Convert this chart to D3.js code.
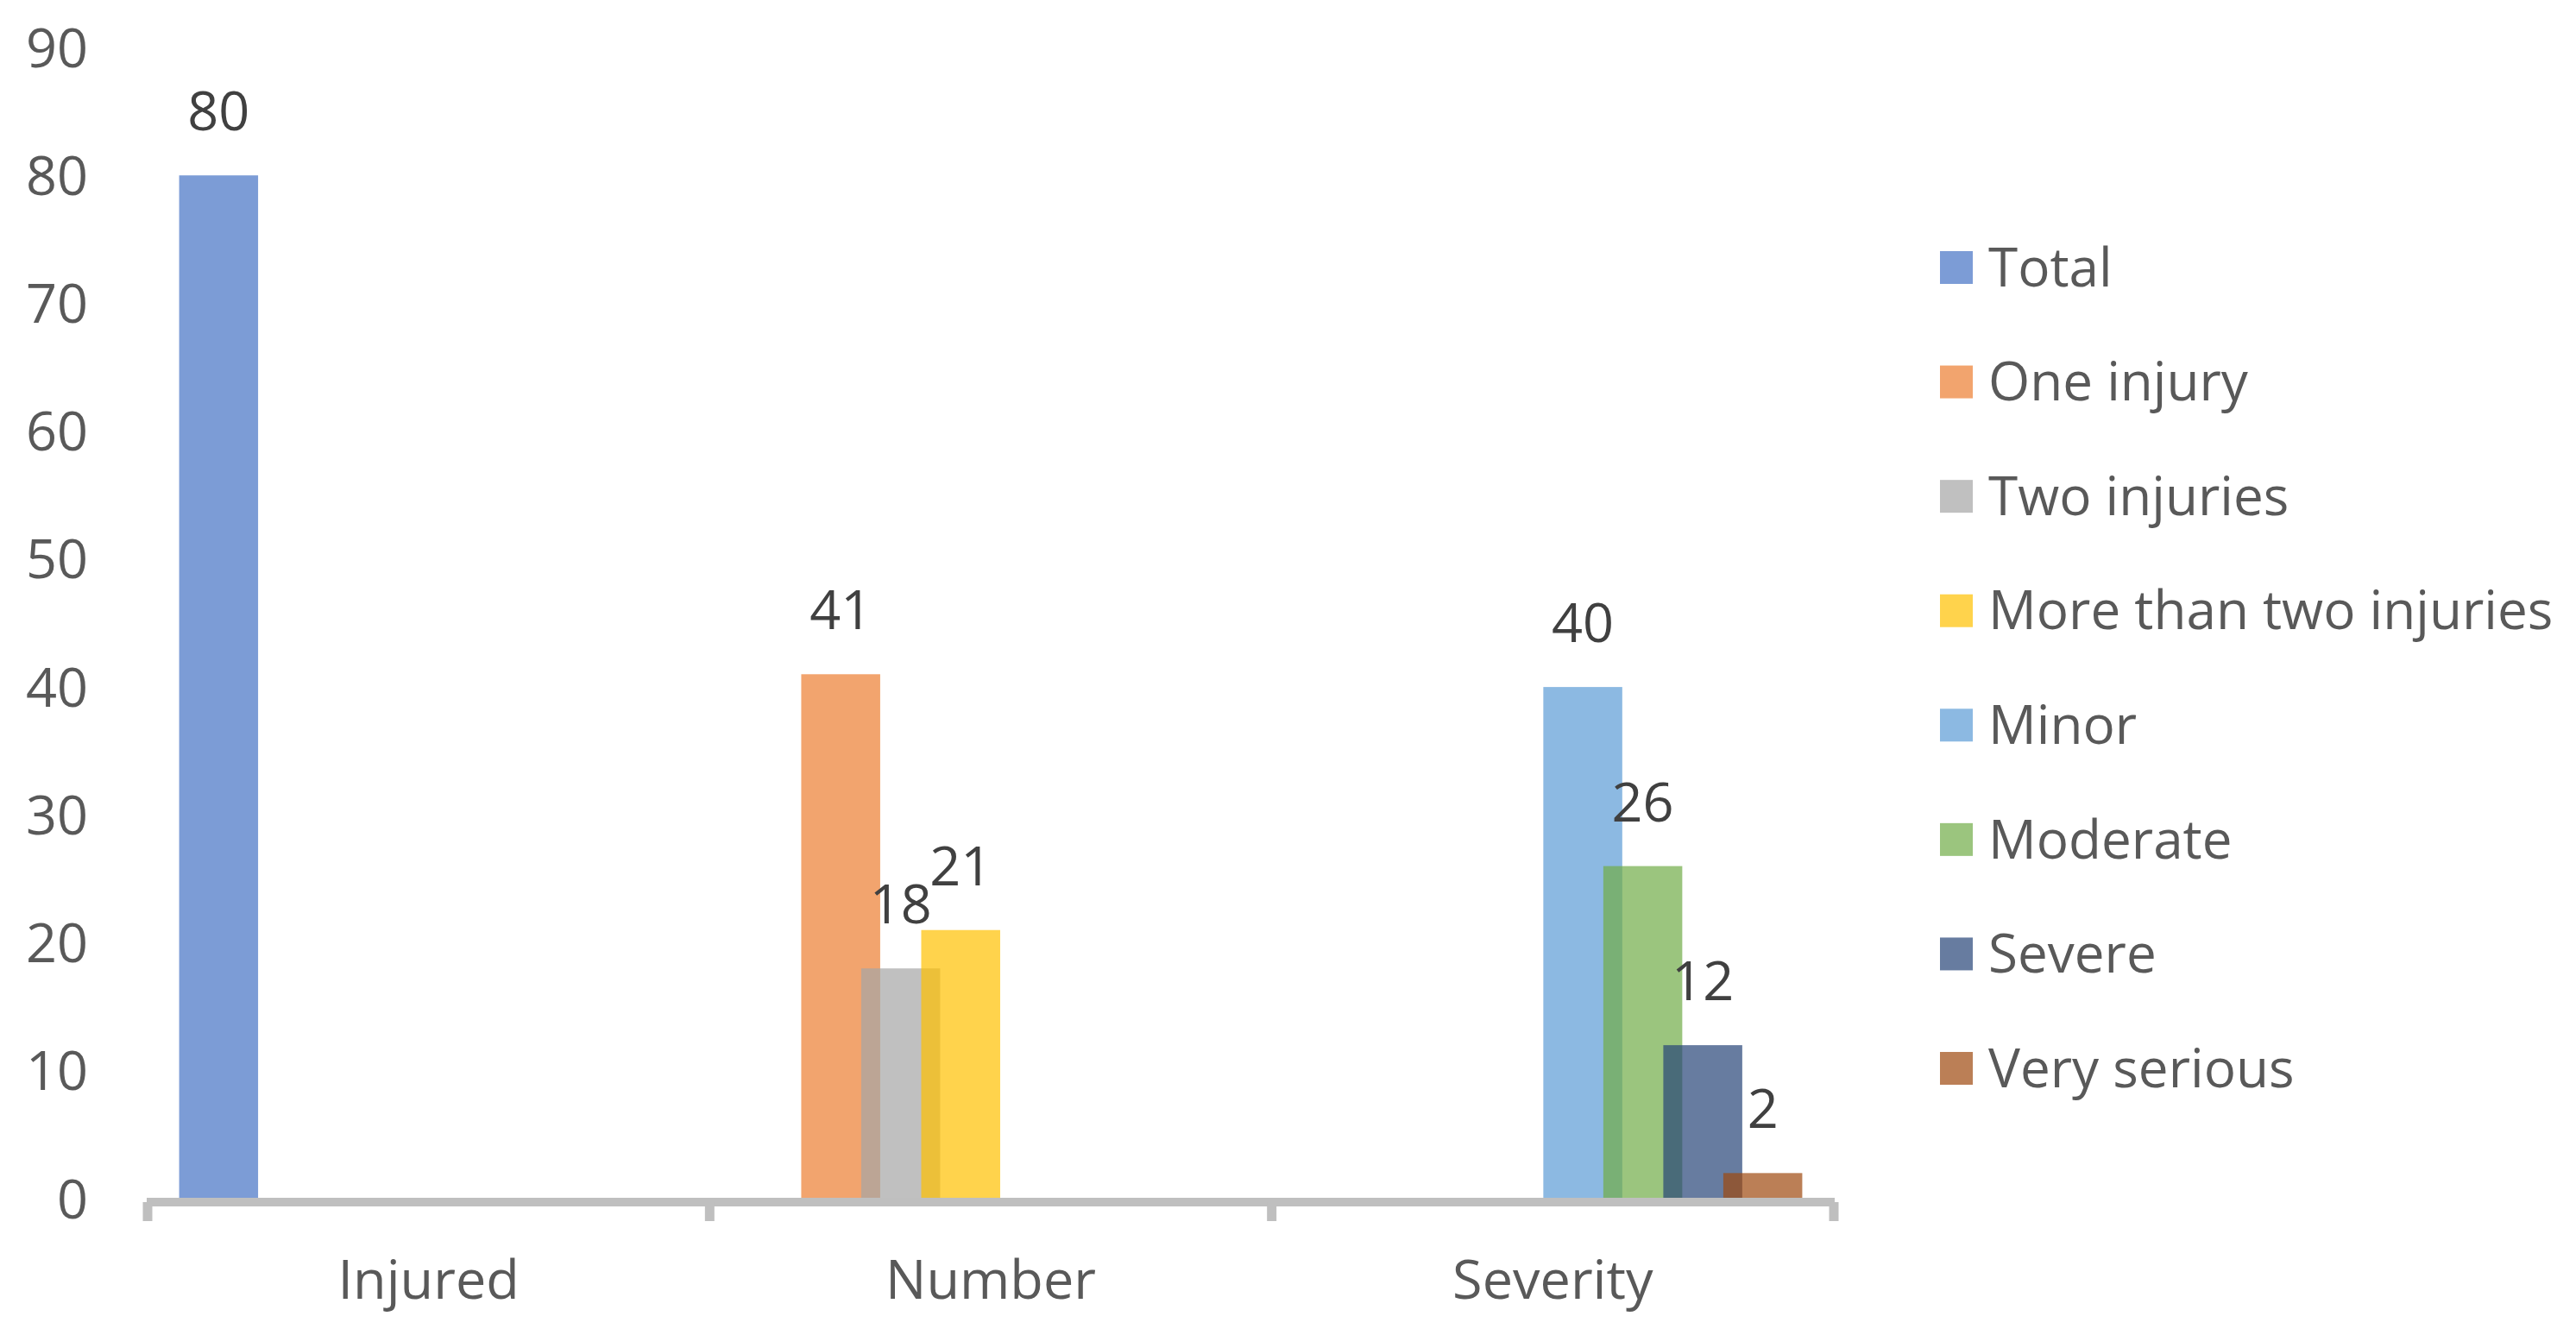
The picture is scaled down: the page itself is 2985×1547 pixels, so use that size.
<!DOCTYPE html>
<html>
<head>
<meta charset="utf-8">
<script src="https://cdn.jsdelivr.net/npm/d3@7"></script>
<style>
  html, body { margin: 0; padding: 0; background: #ffffff; }
  svg { display: block; }
</style>
</head>
<body>
<svg id="chart" width="2985" height="1547"></svg>
<script>
// ---- Data ----
const categories = ["Injured", "Number", "Severity"];
const seriesNames = ["Total", "One injury", "Two injuries", "More than two injuries",
                     "Minor", "Moderate", "Severe", "Very serious"];
const totalValues       = [80, null, null];
const oneInjuryValues   = [null, 41, null];
const twoInjuriesValues = [null, 18, null];
const moreThanTwoValues = [null, 21, null];
const minorValues       = [null, null, 40];
const moderateValues    = [null, null, 26];
const severeValues      = [null, null, 12];
const verySeriousValues = [null, null, 2];
const yTicks = [0, 10, 20, 30, 40, 50, 60, 70, 80, 90];
const seriesColors = ["#4472C4", "#ED7D31", "#A5A5A5", "#FFC000",
                      "#5B9BD5", "#70AD47", "#264478", "#9E480E"];

const seriesValues = [totalValues, oneInjuryValues, twoInjuriesValues, moreThanTwoValues,
                      minorValues, moderateValues, severeValues, verySeriousValues];
const series = seriesNames.map((name, i) => ({ name, color: seriesColors[i], values: seriesValues[i] }));

// ---- Layout ----
const FONT = "'Open Sans', 'Noto Sans', sans-serif";
const svg = d3.select("#chart");
const plotLeft = 171, plotRight = 2125;
const yZero = 1389, yTop = 55;

const x0 = d3.scaleBand().domain(categories).range([plotLeft, plotRight]).paddingInner(0).paddingOuter(0);
const y = d3.scaleLinear().domain([0, 90]).range([yZero, yTop]);

// Excel-like clustered layout: gap width 80%, overlap 24%
const gap = 0.8, overlap = 0.24, n = series.length;
const barW = x0.bandwidth() / (n - (n - 1) * overlap + gap);
const margin = gap * barW / 2;
const xs = d3.scalePoint().domain(seriesNames)
  .range([margin, x0.bandwidth() - margin - barW]);

// ---- Bars ----
const barsG = svg.append("g");
series.forEach(s => {
  const pts = categories.map((c, i) => ({ c, v: s.values[i] })).filter(d => d.v != null);
  barsG.selectAll(null).data(pts).enter().append("rect")
    .attr("x", d => x0(d.c) + xs(s.name))
    .attr("y", d => y(d.v))
    .attr("width", barW)
    .attr("height", d => y(0) - y(d.v))
    .attr("fill", s.color)
    .attr("fill-opacity", 0.7);
});

// ---- Data labels ----
series.forEach(s => {
  const pts = categories.map((c, i) => ({ c, v: s.values[i] })).filter(d => d.v != null);
  svg.selectAll(null).data(pts).enter().append("text")
    .attr("x", d => x0(d.c) + xs(s.name) + barW / 2)
    .attr("y", d => y(d.v) - 52)
    .attr("text-anchor", "middle")
    .attr("font-family", FONT)
    .attr("font-size", 63)
    .attr("fill", "#404040")
    .text(d => d.v);
});

// ---- Y axis (labels only) ----
const yAxis = d3.axisLeft(y).tickValues(yTicks).tickSize(0).tickPadding(0);
const yG = svg.append("g").attr("transform", "translate(102,0)").call(yAxis);
yG.select(".domain").remove();
yG.selectAll("text")
  .attr("font-family", FONT)
  .attr("font-size", 63)
  .attr("fill", "#595959")
  .attr("dy", "0.35em");

// ---- X axis ----
const xG = svg.append("g").attr("transform", `translate(0,${yZero + 4})`);
xG.append("line")
  .attr("x1", plotLeft - 1).attr("x2", plotRight + 1)
  .attr("y1", 0).attr("y2", 0)
  .attr("stroke", "#BFBFBF").attr("stroke-width", 10);
const boundaries = categories.map(c => x0(c)).concat([plotRight]);
xG.selectAll(null).data(boundaries).enter().append("line")
  .attr("x1", d => d).attr("x2", d => d)
  .attr("y1", 0).attr("y2", 22)
  .attr("stroke", "#BFBFBF").attr("stroke-width", 11);
xG.selectAll(null).data(categories).enter().append("text")
  .attr("x", d => x0(d) + x0.bandwidth() / 2)
  .attr("y", 1505 - (yZero + 4))
  .attr("text-anchor", "middle")
  .attr("font-family", FONT)
  .attr("font-size", 63)
  .attr("fill", "#595959")
  .text(d => d);

// ---- Legend ----
const legend = svg.append("g");
const legY = d3.scalePoint().domain(seriesNames).range([310, 1238]);
const items = legend.selectAll(null).data(series).enter().append("g")
  .attr("transform", d => `translate(2248,${legY(d.name)})`);
items.append("rect")
  .attr("x", 0).attr("y", -19).attr("width", 38).attr("height", 38)
  .attr("fill", d => d.color).attr("fill-opacity", 0.7);
items.append("text")
  .attr("x", 56).attr("y", 0).attr("dy", "0.35em")
  .attr("font-family", FONT)
  .attr("font-size", 62)
  .attr("fill", "#595959")
  .text(d => d.name);
</script>
</body>
</html>
